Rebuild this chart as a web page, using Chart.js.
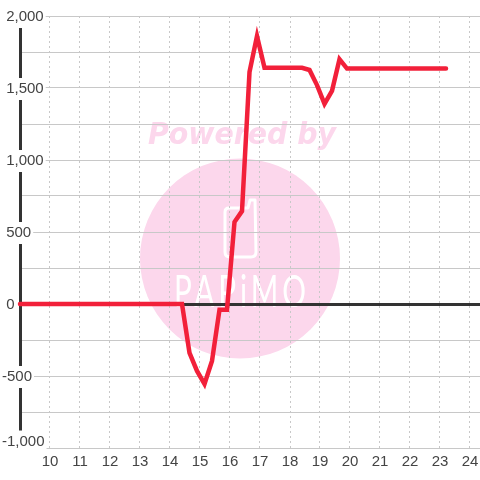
<!DOCTYPE html>
<html>
<head>
<meta charset="utf-8">
<style>
    html, body { margin: 0; padding: 0; background: #fff; }
    #wrap { width: 480px; height: 480px; }
</style>
<script src="https://cdn.jsdelivr.net/npm/chart.js@4/dist/chart.umd.min.js"></script>
</head>
<body>
<div id="wrap"><canvas id="chart" width="480" height="480"></canvas></div>
<script>
// Values
const xValues = [9, 14.4, 14.65, 14.9, 15.15, 15.4, 15.65, 15.9, 16.15, 16.4, 16.65, 16.9, 17.15, 18.4, 18.65, 18.9, 19.15, 19.4, 19.65, 19.9, 23.2];
const yValues = [0, 0, -340, -465, -555, -395, -40, -40, 570, 645, 1610, 1860, 1640, 1640, 1625, 1520, 1390, 1480, 1700, 1635, 1635];
const xTickLabels = ['10', '11', '12', '13', '14', '15', '16', '17', '18', '19', '20', '21', '22', '23', '24'];
const yTickLabels = { 2000: ' 2,000', 1500: ' 1,500', 1000: ' 1,000', 500: ' 500', 0: ' 0', '-500': '-500', '-1000': '-1,000' };
const yLabelValues = [2000, 1500, 1000, 500, 0, -500, -1000];

const lineColor = '#f2203a';
const axisColor = '#333333';
const gridColor = '#c8c8c8';
const textColor = '#444444';
const markColor = '#fcd7ec';

// Labels sit a touch below their grid line, the last one is lifted off the x axis
const labelNudge = (v) => v === -1000 ? 45 : -7;

// Watermark sits behind the grid
const watermark = {
    id: 'watermark',
    beforeDraw(chart) {
        const ctx = chart.ctx;
        ctx.save();
        ctx.fillStyle = markColor;
        ctx.beginPath();
        ctx.arc(240, 258.5, 100, 0, Math.PI * 2);
        ctx.fill();

        ctx.font = 'italic bold 30px "DejaVu Sans"';
        ctx.textAlign = 'left';
        ctx.textBaseline = 'alphabetic';
        ctx.fillText('Powered by', 148, 144, 188);

        // phone outline
        ctx.strokeStyle = '#fff';
        ctx.lineWidth = 3;
        ctx.lineJoin = 'round';
        ctx.beginPath();
        ctx.moveTo(229, 208);
        ctx.lineTo(248, 208);
        ctx.lineTo(250, 200);
        ctx.lineTo(255, 200);
        ctx.lineTo(256, 252);
        ctx.quadraticCurveTo(256, 257, 251, 257);
        ctx.lineTo(230, 257);
        ctx.quadraticCurveTo(225, 257, 225, 252);
        ctx.lineTo(225, 212);
        ctx.quadraticCurveTo(225, 208, 229, 208);
        ctx.stroke();

        ctx.fillStyle = '#fff';
        ctx.font = '45px Lato';
        ctx.letterSpacing = '6px';
        ctx.fillText('PAPiMO', 174, 307, 136);
        ctx.restore();
    }
};

new Chart(document.getElementById('chart'), {
    type: 'line',
    plugins: [watermark],
    data: {
        datasets: [{
            data: xValues.map((x, i) => ({ x: x, y: yValues[i] })),
            borderColor: lineColor,
            borderWidth: 4.5,
            tension: 0,
            pointRadius: 0,
            clip: 4,
            borderCapStyle: 'round'
        }]
    },
    options: {
        responsive: false,
        animation: false,
        events: [],
        layout: { padding: { left: 20, top: 16, right: 0, bottom: 0 } },
        plugins: { legend: { display: false }, tooltip: { enabled: false } },
        scales: {
            x: {
                type: 'linear',
                position: 'bottom',
                min: 9,
                max: 9 + 460 / 30,
                // keep the plot edge where it is, ignore label overhang
                afterFit(scale) {
                    scale.height = 32;
                    scale.paddingLeft = 0;
                    scale.paddingRight = 0;
                },
                border: { display: false, dash: [2, 3] },
                grid: { color: gridColor, lineWidth: 1, drawTicks: false },
                ticks: {
                    stepSize: 1,
                    includeBounds: false,
                    autoSkip: false,
                    maxRotation: 0,
                    padding: 5,
                    z: 1,
                    color: textColor,
                    font: { family: '"Liberation Sans"', size: 15 },
                    callback: (v) => xTickLabels.includes(String(v)) ? String(v) : ''
                }
            },
            // grid and the thick axis line
            y: {
                position: 'left',
                min: -1000,
                max: 2000,
                afterFit(scale) {
                    scale.width = 0;
                    scale.paddingTop = 0;
                    scale.paddingBottom = 0;
                },
                border: { display: true, color: axisColor, width: 3 },
                grid: {
                    drawTicks: false,
                    color: (c) => c.tick && c.tick.value === 0 ? axisColor : gridColor,
                    lineWidth: (c) => c.tick && c.tick.value === 0 ? 3 : 1
                },
                ticks: { stepSize: 250, autoSkip: false, display: false }
            },
            // labels only, they mask the axis line behind them
            yLabels: {
                axis: 'y',
                position: 'left',
                min: -1000,
                max: 2000,
                afterBuildTicks(scale) {
                    scale.ticks = yLabelValues.map((v) => ({ value: v + labelNudge(v) }));
                },
                afterFit(scale) {
                    scale.width = 0;
                    scale.paddingTop = 0;
                    scale.paddingBottom = 0;
                },
                border: { display: false },
                grid: { display: false, drawTicks: false },
                ticks: {
                    autoSkip: false,
                    mirror: true,
                    padding: -18,
                    color: textColor,
                    font: { family: '"Liberation Sans"', size: 15 },
                    showLabelBackdrop: (c) => !!c.tick && Math.abs(c.tick.value + 7) > 1,
                    backdropColor: '#fff',
                    backdropPadding: 2,
                    callback: (v) => yTickLabels[Math.round(v / 500) * 500] || ''
                }
            }
        }
    }
});
</script>
</body>
</html>
